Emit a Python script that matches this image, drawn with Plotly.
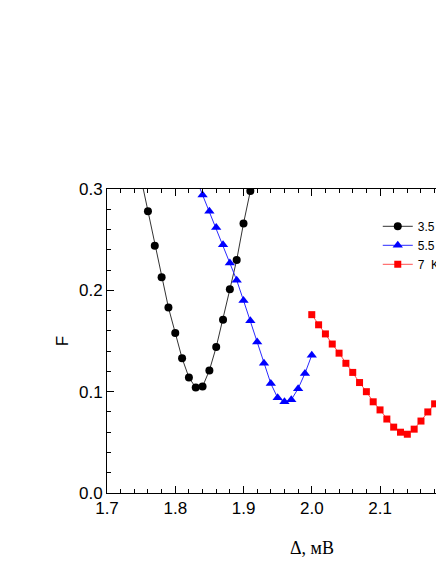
import plotly.graph_objects as go

# 3.5 K
x_35 = [1.75, 1.76, 1.77, 1.78, 1.79, 1.80, 1.81, 1.82, 1.83, 1.84, 1.85, 1.86,
        1.87, 1.88, 1.89, 1.90, 1.91, 1.92]
f_35 = [0.310, 0.278, 0.244, 0.213, 0.183, 0.158, 0.133, 0.114, 0.104, 0.105,
        0.121, 0.144, 0.171, 0.201, 0.230, 0.266, 0.298, 0.330]

# 5.5 K
x_55 = [1.83, 1.84, 1.85, 1.86, 1.87, 1.88, 1.89, 1.90, 1.91, 1.92, 1.93, 1.94,
        1.95, 1.96, 1.97, 1.98, 1.99, 2.00]
f_55 = [0.311, 0.294, 0.278, 0.262, 0.245, 0.227, 0.210, 0.190, 0.170, 0.149,
        0.128, 0.108, 0.094, 0.090, 0.092, 0.103, 0.118, 0.136]

# 7 K
x_7 = [2.00, 2.01, 2.02, 2.03, 2.04, 2.05, 2.06, 2.07, 2.08, 2.09, 2.10, 2.11,
       2.12, 2.13, 2.14, 2.15, 2.16, 2.17, 2.18]
f_7 = [0.176, 0.166, 0.157, 0.147, 0.138, 0.128, 0.119, 0.109, 0.100, 0.090,
       0.082, 0.073, 0.065, 0.060, 0.058, 0.063, 0.071, 0.080, 0.088]

x_ticks = [1.7, 1.8, 1.9, 2.0, 2.1]
y_ticks = [0.0, 0.1, 0.2, 0.3]

fig = go.Figure()

fig.add_trace(go.Scatter(
    x=x_35, y=f_35, mode='lines+markers', name='3.5 K',
    line=dict(color='#333333', width=1),
    marker=dict(symbol='circle', size=8, color='black')
))
fig.add_trace(go.Scatter(
    x=x_55, y=f_55, mode='lines+markers', name='5.5 K',
    line=dict(color='#2a2aff', width=1),
    marker=dict(symbol='triangle-up', size=9, color='#0000ff')
))
fig.add_trace(go.Scatter(
    x=x_7, y=f_7, mode='lines+markers', name='7  K',
    line=dict(color='#ff5050', width=1),
    marker=dict(symbol='square', size=7, color='#ff0000'),
    cliponaxis=False
))

axis_font = dict(family='Liberation Sans, Arial', size=17, color='black')

fig.update_xaxes(
    range=[1.7, 2.182],
    tickvals=x_ticks, ticktext=['%.1f' % v for v in x_ticks],
    ticks='inside', ticklen=7, tickwidth=1, tickcolor='black',
    minor=dict(dtick=0.02, tick0=1.7, ticks='inside', ticklen=4, tickcolor='black'),
    showline=True, linecolor='black', linewidth=1, mirror='ticks',
    showgrid=False, zeroline=False,
    tickfont=axis_font
)
fig.update_yaxes(
    range=[0, 0.3],
    tickvals=y_ticks, ticktext=['%.1f' % v for v in y_ticks],
    ticks='inside', ticklen=7, tickwidth=1, tickcolor='black',
    minor=dict(dtick=0.02, tick0=0, ticks='inside', ticklen=4, tickcolor='black'),
    showline=True, linecolor='black', linewidth=1, mirror=False,
    showgrid=False, zeroline=False,
    tickfont=axis_font,
    title=dict(text='F', font=axis_font, standoff=6)
)

# x title centred on the full (cropped) axis
fig.add_annotation(
    x=2.0, y=0, xref='x', yref='paper', yshift=-67,
    text='Δ, мВ', showarrow=False,
    font=dict(family='Liberation Serif, Times New Roman', size=18, color='black')
)

# the legend runs off the right edge like in the original, so no margin autoexpand
fig.update_layout(
    width=436, height=564,
    margin=dict(l=107, r=0, t=189, b=71, autoexpand=False),
    plot_bgcolor='white', paper_bgcolor='white',
    legend=dict(
        x=0.823, y=0.925, xanchor='left', yanchor='top',
        bgcolor='rgba(0,0,0,0)', itemwidth=30, tracegroupgap=0,
        font=dict(family='Liberation Sans, Arial', size=12, color='black')
    )
)

# drop the default page margin so the figure sits at the window's corner
fig.write_html(
    "out.html",
    config={'displayModeBar': False},
    post_script="document.body.style.margin='0';document.body.style.overflow='hidden';"
)
